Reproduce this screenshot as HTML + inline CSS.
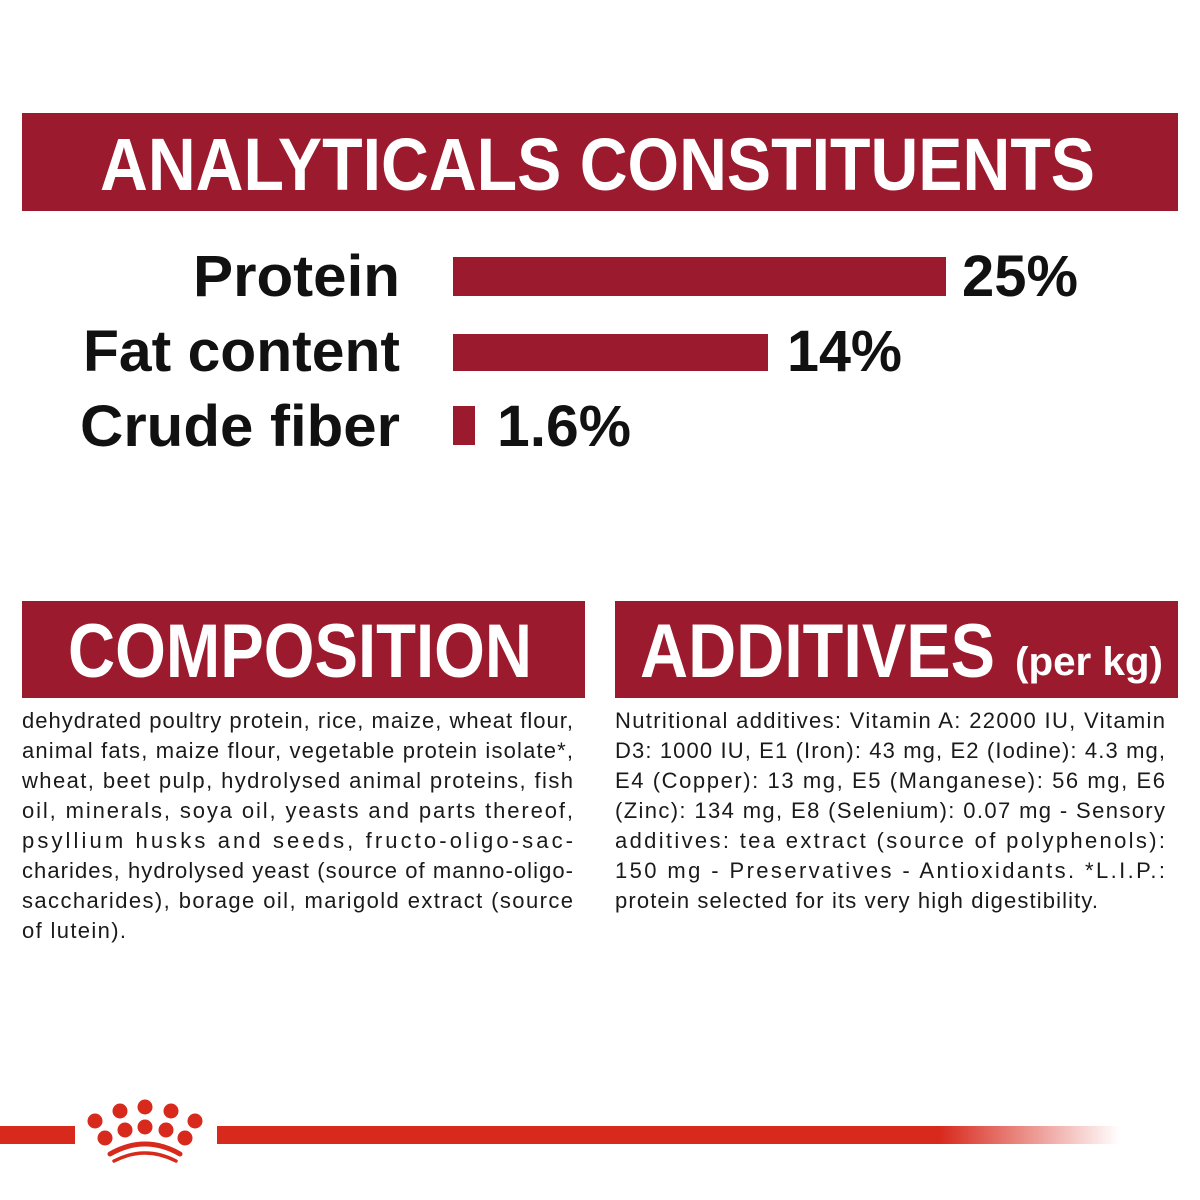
<!DOCTYPE html>
<html><head><meta charset="utf-8"><style>html,body{margin:0;padding:0;background:#fff}svg{display:block}</style></head>
<body>
<svg width="1200" height="1200" viewBox="0 0 1200 1200" xmlns="http://www.w3.org/2000/svg">
<defs>
<linearGradient id="fade" x1="0" x2="1" y1="0" y2="0">
<stop offset="0" stop-color="#d8291d"/><stop offset="0.8" stop-color="#d8291d"/><stop offset="1" stop-color="#d8291d" stop-opacity="0"/>
</linearGradient>
</defs>
<rect width="1200" height="1200" fill="#fff"/>
<rect x="22" y="113" width="1156" height="98" fill="#9b1a2e"/>
<text x="100" y="190" font-family="Liberation Sans Narrow, Liberation Sans, sans-serif" font-weight="bold" font-size="74" fill="#fff" textLength="995" lengthAdjust="spacingAndGlyphs">ANALYTICALS CONSTITUENTS</text>

<g font-family="Liberation Sans, sans-serif" font-weight="bold" font-size="58" fill="#111">
<text x="400" y="296" text-anchor="end" textLength="207" lengthAdjust="spacingAndGlyphs">Protein</text>
<text x="400" y="371" text-anchor="end" textLength="317" lengthAdjust="spacingAndGlyphs">Fat content</text>
<text x="400" y="446" text-anchor="end" textLength="320" lengthAdjust="spacingAndGlyphs">Crude fiber</text>
<text x="962" y="296" textLength="116" lengthAdjust="spacingAndGlyphs">25%</text>
<text x="787" y="371" textLength="115" lengthAdjust="spacingAndGlyphs">14%</text>
<text x="497" y="446" textLength="134" lengthAdjust="spacingAndGlyphs">1.6%</text>
</g>
<rect x="453" y="257" width="493" height="39" fill="#9b1a2e"/>
<rect x="453" y="334" width="315" height="37" fill="#9b1a2e"/>
<rect x="453" y="406" width="22" height="39" fill="#9b1a2e"/>

<rect x="22" y="601" width="563" height="97" fill="#9b1a2e"/>
<rect x="615" y="601" width="563" height="97" fill="#9b1a2e"/>
<g font-family="Liberation Sans Narrow, Liberation Sans, sans-serif" font-weight="bold" fill="#fff">
<text x="68" y="677" font-size="76" textLength="464" lengthAdjust="spacingAndGlyphs">COMPOSITION</text>
<text x="640" y="677" font-size="76" textLength="355" lengthAdjust="spacingAndGlyphs">ADDITIVES</text>
<text x="1015" y="675" font-size="40" textLength="148" lengthAdjust="spacingAndGlyphs">(per kg)</text>
</g>

<g font-family="Liberation Sans Narrow, Liberation Sans, sans-serif" font-size="22" fill="#1a1a1a" lengthAdjust="spacing">
<text x="22" y="728" textLength="551">dehydrated poultry protein, rice, maize, wheat flour,</text>
<text x="22" y="758" textLength="551">animal fats, maize flour, vegetable protein isolate*,</text>
<text x="22" y="788" textLength="551">wheat, beet pulp, hydrolysed animal proteins, fish</text>
<text x="22" y="818" textLength="551">oil, minerals, soya oil, yeasts and parts thereof,</text>
<text x="22" y="848" textLength="551">psyllium husks and seeds, fructo-oligo-sac-</text>
<text x="22" y="878" textLength="551">charides, hydrolysed yeast (source of manno-oligo-</text>
<text x="22" y="908" textLength="551">saccharides), borage oil, marigold extract (source</text>
<text x="22" y="938" textLength="104">of lutein).</text>

<text x="615" y="728" textLength="550">Nutritional additives: Vitamin A: 22000 IU, Vitamin</text>
<text x="615" y="758" textLength="550">D3: 1000 IU, E1 (Iron): 43 mg, E2 (Iodine): 4.3 mg,</text>
<text x="615" y="788" textLength="550">E4 (Copper): 13 mg, E5 (Manganese): 56 mg, E6</text>
<text x="615" y="818" textLength="550">(Zinc): 134 mg, E8 (Selenium): 0.07 mg - Sensory</text>
<text x="615" y="848" textLength="550">additives: tea extract (source of polyphenols):</text>
<text x="615" y="878" textLength="550">150 mg - Preservatives - Antioxidants. *L.I.P.:</text>
<text x="615" y="908" textLength="483">protein selected for its very high digestibility.</text>
</g>

<rect x="0" y="1126" width="75" height="18" fill="#d8291d"/>
<rect x="217" y="1126" width="903" height="18" fill="url(#fade)"/>
<g fill="#d8291d">
<circle cx="95" cy="1121" r="7.5"/>
<circle cx="120" cy="1111" r="7.5"/>
<circle cx="145" cy="1107" r="7.5"/>
<circle cx="171" cy="1111" r="7.5"/>
<circle cx="195" cy="1121" r="7.5"/>
<circle cx="105" cy="1138" r="7.5"/>
<circle cx="125" cy="1130" r="7.5"/>
<circle cx="145" cy="1127" r="7.5"/>
<circle cx="166" cy="1130" r="7.5"/>
<circle cx="185" cy="1138" r="7.5"/>
</g>
<path d="M110 1154 Q145 1134 180 1154" stroke="#d8291d" stroke-width="5" fill="none" stroke-linecap="round"/>
<path d="M114 1161 Q145 1145 176 1161" stroke="#d8291d" stroke-width="3.5" fill="none" stroke-linecap="round"/>
</svg>
</body></html>
